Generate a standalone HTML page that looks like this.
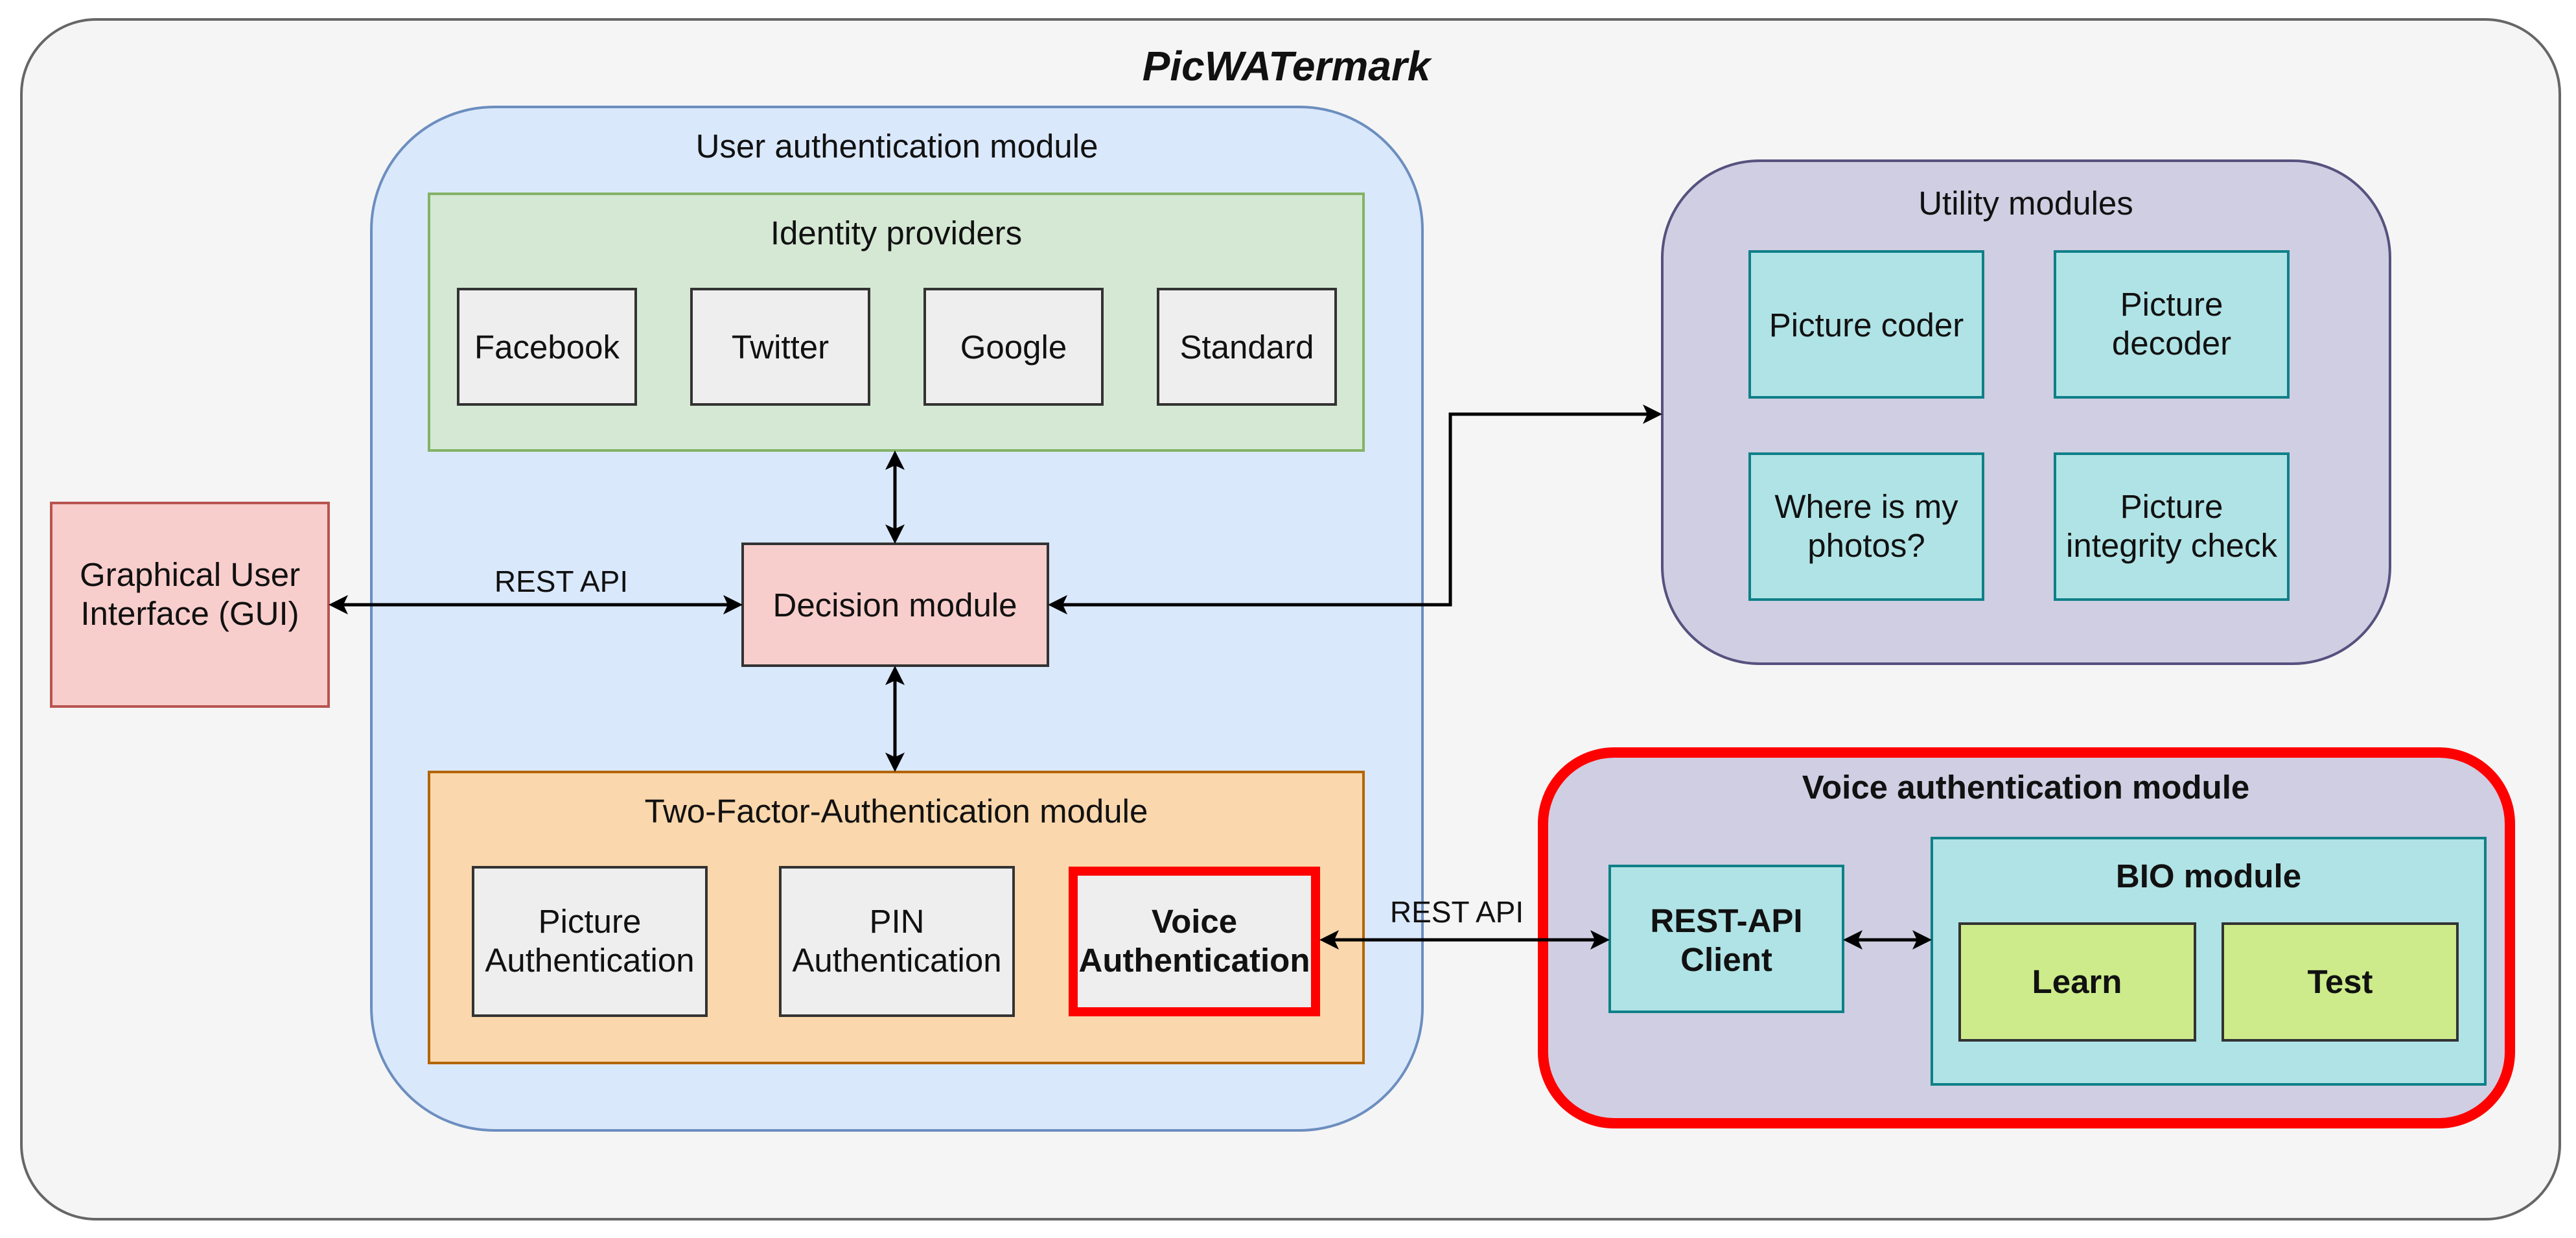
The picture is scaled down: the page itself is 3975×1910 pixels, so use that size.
<!DOCTYPE html>
<html><head><meta charset="utf-8"><style>html,body{margin:0;padding:0;background:#fff}svg{display:block}</style></head>
<body>
<svg width="3975" height="1910" viewBox="0 0 3975 1910" xmlns="http://www.w3.org/2000/svg" font-family="Liberation Sans, Arial, sans-serif">
<style>
text{fill:#111}
.t{font-size:51px;text-anchor:middle}
.b{font-weight:bold}
</style>
<rect x="33" y="30" width="3917" height="1851" rx="115" fill="#f5f5f5" stroke="#666" stroke-width="4"/>
<text x="1985" y="124" class="t b" font-style="italic" style="font-size:64px" fill="#333">PicWATermark</text>

<rect x="573" y="165" width="1622" height="1579" rx="190" fill="#dae8fc" stroke="#6c8ebf" stroke-width="4"/>
<text x="1384" y="243" class="t">User authentication module</text>

<rect x="662" y="299" width="1442" height="396" fill="#d5e8d4" stroke="#82b366" stroke-width="4"/>
<text x="1383" y="377" class="t">Identity providers</text>
<g fill="#eeeeee" stroke="#333" stroke-width="4">
<rect x="707" y="446" width="274" height="178"/>
<rect x="1067" y="446" width="274" height="178"/>
<rect x="1427" y="446" width="274" height="178"/>
<rect x="1787" y="446" width="274" height="178"/>
</g>
<text x="844" y="553" class="t">Facebook</text>
<text x="1204" y="553" class="t">Twitter</text>
<text x="1564" y="553" class="t">Google</text>
<text x="1924" y="553" class="t">Standard</text>

<rect x="1146" y="839" width="471" height="188" fill="#f8cecc" stroke="#333" stroke-width="4"/>
<text x="1381" y="951" class="t">Decision module</text>

<rect x="79" y="776" width="428" height="314" fill="#f8cecc" stroke="#b85450" stroke-width="4"/>
<text x="293" y="904" class="t">Graphical User</text>
<text x="293" y="964" class="t">Interface (GUI)</text>

<rect x="662" y="1191" width="1442" height="449" fill="#fad7ac" stroke="#b46504" stroke-width="4"/>
<text x="1383" y="1269" class="t">Two-Factor-Authentication module</text>
<g fill="#eeeeee" stroke="#333" stroke-width="4">
<rect x="730" y="1338" width="360" height="229"/>
<rect x="1204" y="1338" width="360" height="229"/>
</g>
<rect x="1656" y="1344" width="374" height="217" fill="#eeeeee" stroke="#ff0000" stroke-width="14"/>
<text x="910" y="1439" class="t">Picture</text>
<text x="910" y="1499" class="t">Authentication</text>
<text x="1384" y="1439" class="t">PIN</text>
<text x="1384" y="1499" class="t">Authentication</text>
<text x="1843" y="1439" class="t b">Voice</text>
<text x="1843" y="1499" class="t b">Authentication</text>

<rect x="2565" y="248" width="1123" height="776" rx="150" fill="#d0cee2" stroke="#56517e" stroke-width="4"/>
<text x="3126" y="331" class="t">Utility modules</text>
<g fill="#b0e3e6" stroke="#0e8088" stroke-width="4">
<rect x="2700" y="388" width="360" height="225"/>
<rect x="3171" y="388" width="360" height="225"/>
<rect x="2700" y="700" width="360" height="225"/>
<rect x="3171" y="700" width="360" height="225"/>
</g>
<text x="2880" y="519" class="t">Picture coder</text>
<text x="3351" y="487" class="t">Picture</text>
<text x="3351" y="547" class="t">decoder</text>
<text x="2880" y="799" class="t">Where is my</text>
<text x="2880" y="859" class="t">photos?</text>
<text x="3351" y="799" class="t">Picture</text>
<text x="3351" y="859" class="t">integrity check</text>

<rect x="2381" y="1161" width="1492" height="572" rx="110" fill="#d0cee2" stroke="#ff0000" stroke-width="16"/>
<text x="3126" y="1232" class="t b">Voice authentication module</text>
<rect x="2484" y="1336" width="360" height="225" fill="#b0e3e6" stroke="#0e8088" stroke-width="4"/>
<text x="2664" y="1438" class="t b">REST-API</text>
<text x="2664" y="1498" class="t b">Client</text>
<rect x="2981" y="1293" width="854" height="380" fill="#b0e3e6" stroke="#0e8088" stroke-width="4"/>
<text x="3408" y="1369" class="t b">BIO module</text>
<g fill="#cdeb8b" stroke="#333" stroke-width="4">
<rect x="3024" y="1425" width="363" height="180"/>
<rect x="3430" y="1425" width="362" height="180"/>
</g>
<text x="3205" y="1532" class="t b">Learn</text>
<text x="3611" y="1532" class="t b">Test</text>

<g stroke="#000" stroke-width="5" fill="none">
<line x1="530" y1="933" x2="1123" y2="933"/>
<line x1="1381" y1="718" x2="1381" y2="816"/>
<line x1="1381" y1="1050" x2="1381" y2="1168"/>
<polyline points="1640,933 2238,933 2238,639 2542,639"/>
<line x1="2059" y1="1450" x2="2461" y2="1450"/>
<line x1="2867" y1="1450" x2="2958" y2="1450"/>
</g>
<g fill="#000">
<polygon points="507,933 537,918 530,933 537,948"/>
<polygon points="1146,933 1116,918 1123,933 1116,948"/>
<polygon points="1381,695 1366,725 1381,718 1396,725"/>
<polygon points="1381,839 1366,809 1381,816 1396,809"/>
<polygon points="1381,1027 1366,1057 1381,1050 1396,1057"/>
<polygon points="1381,1191 1366,1161 1381,1168 1396,1161"/>
<polygon points="1617,933 1647,918 1640,933 1647,948"/>
<polygon points="2565,639 2535,624 2542,639 2535,654"/>
<polygon points="2036,1450 2066,1435 2059,1450 2066,1465"/>
<polygon points="2484,1450 2454,1435 2461,1450 2454,1465"/>
<polygon points="2844,1450 2874,1435 2867,1450 2874,1465"/>
<polygon points="2981,1450 2951,1435 2958,1450 2951,1465"/>
</g>
<text x="866" y="913" class="t" style="font-size:46px">REST API</text>
<text x="2248" y="1423" class="t" style="font-size:46px">REST API</text>
</svg>
</body></html>
